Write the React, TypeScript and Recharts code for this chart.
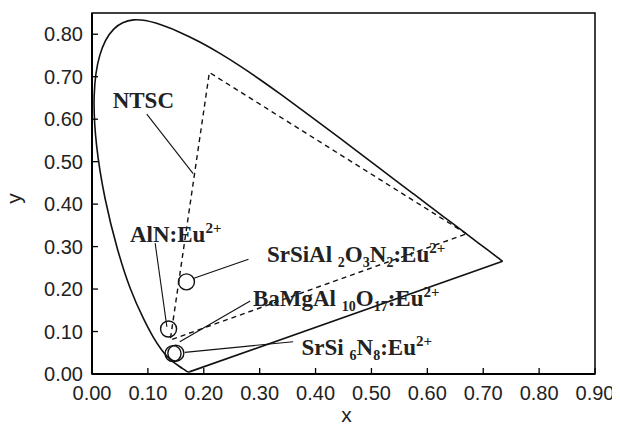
import React from 'react';
import { ScatterChart, Scatter, XAxis, YAxis, ReferenceArea } from 'recharts';

const xTicks = [0, 0.1, 0.2, 0.3, 0.4, 0.5, 0.6, 0.7, 0.8, 0.9];
const yTicks = [0, 0.1, 0.2, 0.3, 0.4, 0.5, 0.6, 0.7, 0.8];

// CIE 1931 spectral locus (x, y), 380 nm -> 700 nm
const spectralLocus = [
  { x: 0.1741, y: 0.005 }, { x: 0.1733, y: 0.0048 }, { x: 0.1714, y: 0.0051 },
  { x: 0.1689, y: 0.0069 }, { x: 0.1644, y: 0.0109 }, { x: 0.1566, y: 0.0177 },
  { x: 0.144, y: 0.0297 }, { x: 0.1355, y: 0.0399 }, { x: 0.1241, y: 0.0578 },
  { x: 0.1096, y: 0.0868 }, { x: 0.0913, y: 0.1327 }, { x: 0.0687, y: 0.2007 },
  { x: 0.0454, y: 0.295 }, { x: 0.0235, y: 0.4127 }, { x: 0.0082, y: 0.5384 },
  { x: 0.0039, y: 0.6548 }, { x: 0.0139, y: 0.7502 }, { x: 0.0389, y: 0.812 },
  { x: 0.0743, y: 0.8338 }, { x: 0.1142, y: 0.8262 }, { x: 0.1547, y: 0.8059 },
  { x: 0.1929, y: 0.7816 }, { x: 0.2296, y: 0.7543 }, { x: 0.2658, y: 0.7243 },
  { x: 0.3016, y: 0.6923 }, { x: 0.3373, y: 0.6589 }, { x: 0.3731, y: 0.6245 },
  { x: 0.4087, y: 0.5896 }, { x: 0.4441, y: 0.5547 }, { x: 0.4788, y: 0.5202 },
  { x: 0.5125, y: 0.4866 }, { x: 0.5448, y: 0.4544 }, { x: 0.5752, y: 0.4242 },
  { x: 0.6029, y: 0.3965 }, { x: 0.627, y: 0.3725 }, { x: 0.6658, y: 0.334 },
  { x: 0.6915, y: 0.3083 }, { x: 0.7079, y: 0.292 }, { x: 0.719, y: 0.2809 },
  { x: 0.726, y: 0.274 }, { x: 0.73, y: 0.27 }, { x: 0.7334, y: 0.2666 },
  { x: 0.7347, y: 0.2653 },
];

// line of purples closing the locus
const purpleLine = [{ x: 0.7347, y: 0.2653 }, { x: 0.1741, y: 0.005 }];

const ntscTriangle = [
  { x: 0.67, y: 0.33 }, { x: 0.21, y: 0.71 }, { x: 0.14, y: 0.08 }, { x: 0.67, y: 0.33 },
];

const phosphorPoints = [
  { x: 0.137, y: 0.106 }, // AlN:Eu2+
  { x: 0.169, y: 0.217 }, // SrSiAl2O3N2:Eu2+
  { x: 0.145, y: 0.048 }, // BaMgAl10O17:Eu2+
  { x: 0.15, y: 0.049 }, // SrSi6N8:Eu2+
];

const leaderNTSC = [{ x: 0.098, y: 0.612 }, { x: 0.181, y: 0.472 }];
const leaderAlN = [{ x: 0.113, y: 0.308 }, { x: 0.134, y: 0.111 }];
const leaderSrSiAl = [{ x: 0.181, y: 0.225 }, { x: 0.28, y: 0.27 }];
const leaderBaMg = [{ x: 0.283, y: 0.172 }, { x: 0.157, y: 0.076 }];
const leaderSrSi6 = [{ x: 0.166, y: 0.051 }, { x: 0.36, y: 0.076 }];

const labelNTSC = [{ x: 0.037, y: 0.627, parts: [['NTSC', 'n']] }];
const labelAlN = [{ x: 0.068, y: 0.31, parts: [['AlN:Eu', 'n'], ['2+', 'sup']] }];
const labelSrSiAl = [{
  x: 0.313, y: 0.264,
  parts: [['SrSiAl ', 'n'], ['2', 'sub'], ['O', 'n'], ['3', 'sub'], ['N', 'n'], ['2', 'sub'], [':Eu', 'n'], ['2+', 'sup']],
}];
const labelBaMg = [{
  x: 0.288, y: 0.159,
  parts: [['BaMgAl ', 'n'], ['10', 'sub'], ['O', 'n'], ['17', 'sub'], [':Eu', 'n'], ['2+', 'sup']],
}];
const labelSrSi6 = [{
  x: 0.375, y: 0.045,
  parts: [['SrSi ', 'n'], ['6', 'sub'], ['N', 'n'], ['8', 'sub'], [':Eu', 'n'], ['2+', 'sup']],
}];

const sansFont = '"Liberation Sans", Arial, Helvetica, sans-serif';
const serifFont = '"Liberation Serif", "Times New Roman", serif';

const XTick = (props: any) => {
  const { x, y, payload } = props;
  return (
    <g>
      <line x1={x} x2={x} y1={y} y2={y - 6} stroke="#000" strokeWidth={1.3} />
      <text x={x} y={y + 26} textAnchor="middle" fontFamily={sansFont} fontSize={20} fill="#222">
        {Number(payload.value).toFixed(2)}
      </text>
    </g>
  );
};

const YTick = (props: any) => {
  const { x, y, payload } = props;
  return (
    <g>
      <line x1={x} x2={x + 6} y1={y} y2={y} stroke="#000" strokeWidth={1.3} />
      <text x={x - 9} y={y + 7} textAnchor="end" fontFamily={sansFont} fontSize={20} fill="#222">
        {Number(payload.value).toFixed(2)}
      </text>
    </g>
  );
};

const YLabel = (props: any) => {
  const vb = props.viewBox || { x: 0, y: 5, width: 84, height: 361 };
  const cx = vb.x + 13;
  const cy = vb.y + vb.height / 2 + 5;
  return (
    <text
      x={cx}
      y={cy}
      transform={`rotate(-90, ${cx}, ${cy})`}
      textAnchor="middle"
      fontFamily={sansFont}
      fontSize={21}
      fill="#222"
    >
      y
    </text>
  );
};

const Nothing = () => <g />;

const CircleShape = (props: any) => {
  const { cx, cy } = props;
  return <circle cx={cx} cy={cy} r={8} fill="none" stroke="#111" strokeWidth={1.4} />;
};

const LabelShape = (props: any) => {
  const { cx, cy, payload } = props;
  let shift = 0;
  return (
    <text x={cx} y={cy} fontFamily={serifFont} fontWeight="bold" fontSize={23} fill="#222">
      {payload.parts.map((p: string[], i: number) => {
        const target = p[1] === 'sub' ? 5 : p[1] === 'sup' ? -9 : 0;
        const dy = target - shift;
        shift = target;
        const fs = p[1] === 'n' ? 23 : p[1] === 'sub' ? 14 : 15;
        return (
          <tspan key={i} dy={dy} fontSize={fs} style={{ whiteSpace: 'pre' }}>
            {p[0]}
          </tspan>
        );
      })}
    </text>
  );
};

const lineSeries = (data: any[], dashed: boolean, width: number, key: string, curve: any = 'linear') => (
  <Scatter
    key={key}
    data={data}
    line={{ stroke: '#111', strokeWidth: width, strokeDasharray: dashed ? '5 4' : undefined }}
    lineType="joint"
    lineJointType={curve}
    shape={<Nothing />}
    isAnimationActive={false}
  />
);

export default function App() {
  return (
    <ScatterChart width={612} height={417} margin={{ top: 5, right: 25, left: 0, bottom: 0 }}>
      <XAxis
        type="number"
        dataKey="x"
        domain={[0, 0.9]}
        ticks={xTicks}
        interval={0}
        tickSize={0}
        tickMargin={0}
        height={51}
        tick={<XTick />}
        axisLine={{ stroke: '#000', strokeWidth: 2 }}
        label={{ value: 'x', position: 'insideBottom', offset: 3, dx: 3, fontFamily: sansFont, fontSize: 21, fill: '#222' }}
      />
      <YAxis
        type="number"
        dataKey="y"
        domain={[0, 0.85]}
        ticks={yTicks}
        interval={0}
        tickSize={0}
        tickMargin={0}
        width={84}
        tick={<YTick />}
        axisLine={{ stroke: '#000', strokeWidth: 2 }}
        label={<YLabel />}
      />
      <ReferenceArea x1={0} x2={0.9} y1={0} y2={0.85} fill="none" stroke="#000" strokeWidth={1.5} />
      {lineSeries(spectralLocus, false, 1.6, 'locus', 'natural')}
      {lineSeries(purpleLine, false, 1.6, 'purple')}
      {lineSeries(ntscTriangle, true, 1.4, 'ntsc')}
      {lineSeries(leaderNTSC, false, 1.1, 'l1')}
      {lineSeries(leaderAlN, false, 1.1, 'l2')}
      {lineSeries(leaderSrSiAl, false, 1.1, 'l3')}
      {lineSeries(leaderBaMg, false, 1.1, 'l4')}
      {lineSeries(leaderSrSi6, false, 1.1, 'l5')}
      <Scatter data={phosphorPoints} shape={<CircleShape />} isAnimationActive={false} />
      <Scatter data={labelNTSC} shape={<LabelShape />} isAnimationActive={false} />
      <Scatter data={labelAlN} shape={<LabelShape />} isAnimationActive={false} />
      <Scatter data={labelSrSiAl} shape={<LabelShape />} isAnimationActive={false} />
      <Scatter data={labelBaMg} shape={<LabelShape />} isAnimationActive={false} />
      <Scatter data={labelSrSi6} shape={<LabelShape />} isAnimationActive={false} />
    </ScatterChart>
  );
}
